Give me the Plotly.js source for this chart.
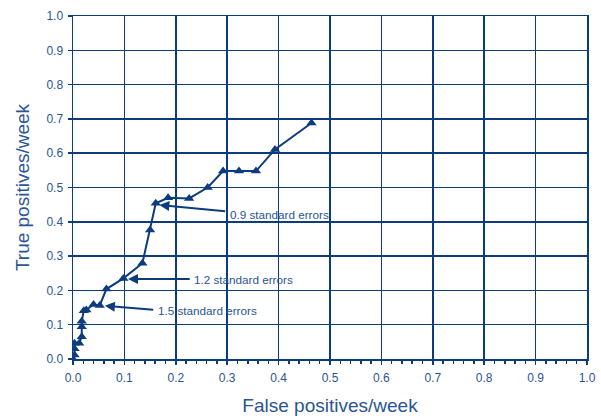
<!DOCTYPE html>
<html>
<head>
<meta charset="utf-8">
<script src="https://cdn.plot.ly/plotly-3.0.1.min.js"></script>
<style>html,body{margin:0;padding:0;background:#fff}#chart{width:601px;height:416px}</style>
</head>
<body>
<div id="chart"></div>
<script>
// False positives per week (x) and true positives per week (y)
const falsePositives = [0.0, 0.003, 0.003, 0.003, 0.012, 0.017, 0.017, 0.017, 0.021, 0.026, 0.040, 0.052, 0.065, 0.098, 0.135, 0.150, 0.161, 0.185, 0.226, 0.262, 0.292, 0.323, 0.356, 0.393, 0.464];
const truePositives  = [0.0, 0.012, 0.03, 0.046, 0.046, 0.065, 0.094, 0.110, 0.141, 0.143, 0.159, 0.156, 0.204, 0.235, 0.279, 0.376, 0.454, 0.470, 0.468, 0.500, 0.548, 0.548, 0.548, 0.611, 0.688];

// Annotations: label, point (head), arrow tail and label position
const labels  = ["0.9 standard errors", "1.2 standard errors", "1.5 standard errors"];
const headX   = [0.168, 0.107, 0.062];
const headY   = [0.449, 0.233, 0.155];
const tailX   = [0.299, 0.230, 0.159];
const tailY   = [0.430, 0.233, 0.143];
const labelY  = [0.422, 0.233, 0.141];

const lineCol = '#0c3c7d';
const textCol = '#2a5596';
const fam = 'Liberation Sans, Arial, sans-serif';

const annotations = [];
for (let i = 0; i < labels.length; i++) {
  annotations.push({
    x: headX[i], y: headY[i], ax: tailX[i], ay: tailY[i],
    xref: 'x', yref: 'y', axref: 'x', ayref: 'y',
    text: '', showarrow: true, arrowhead: 2, arrowsize: 1, arrowwidth: 2,
    arrowcolor: lineCol, standoff: 0, startstandoff: 0
  });
  annotations.push({
    x: tailX[i] + 0.002, y: labelY[i], xref: 'x', yref: 'y',
    text: labels[i], showarrow: false, xanchor: 'left', yanchor: 'middle',
    font: {family: fam, size: 11.7, color: textCol}
  });
}

const trace = {
  x: falsePositives, y: truePositives, type: 'scatter', mode: 'lines+markers',
  line: {color: lineCol, width: 2},
  marker: {symbol: 'triangle-up', size: 9, color: lineCol},
  hoverinfo: 'none'
};

const axisCommon = {
  range: [0, 1], dtick: 0.1, tick0: 0, tickformat: '.1f',
  showgrid: true, gridcolor: lineCol, gridwidth: 1.5,
  showline: true, linecolor: lineCol, linewidth: 1.5, mirror: true,
  ticks: 'outside', ticklen: 4, tickcolor: lineCol, tickwidth: 1.5,
  zeroline: false, fixedrange: true,
  tickfont: {family: fam, size: 12, color: textCol}
};

const layout = {
  width: 601, height: 416,
  margin: {l: 73, r: 14, t: 16, b: 57},
  paper_bgcolor: '#fff', plot_bgcolor: '#fff',
  showlegend: false,
  xaxis: Object.assign({}, axisCommon, {
    ticklabelstandoff: 3,
    title: {text: 'False positives/week', standoff: 16,
            font: {family: fam, size: 19, color: textCol}},
    minor: {dtick: 0.02, ticks: 'outside', ticklen: 3, tickcolor: lineCol, tickwidth: 1.5, showgrid: false}
  }),
  yaxis: Object.assign({}, axisCommon, {
    ticklabelstandoff: 2,
    title: {text: 'True positives/week', standoff: 12,
            font: {family: fam, size: 19, color: textCol}}
  }),
  annotations: annotations
};

Plotly.newPlot('chart', [trace], layout, {displayModeBar: false, staticPlot: true});
</script>
</body>
</html>
